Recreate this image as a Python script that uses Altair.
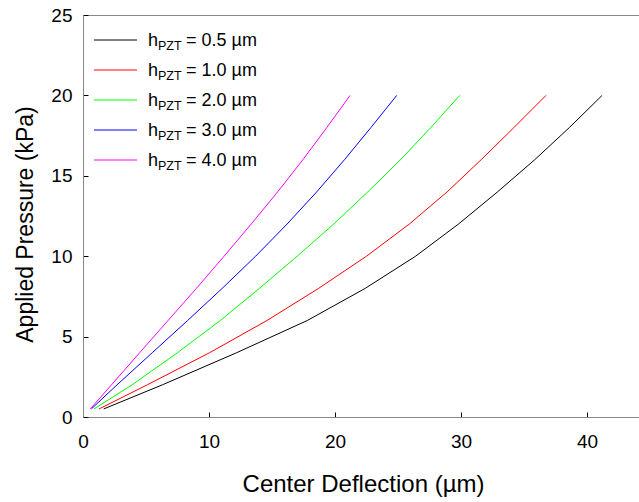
import altair as alt
import pandas as pd

# ---- data ----
series_names = ["0.5", "1.0", "2.0", "3.0", "4.0"]
series_colors = ["#000000", "#ff0000", "#00ff00", "#0000ff", "#ff00ff"]
legend_texts = ["= 0.5 \u00b5m", "= 1.0 \u00b5m", "= 2.0 \u00b5m", "= 3.0 \u00b5m", "= 4.0 \u00b5m"]

pressure_kpa = [0.5, 2, 4, 6, 8, 10, 12, 14, 16, 18, 20]
defl_05 = [1.64, 6.3, 12.2, 17.8, 22.4, 26.4, 29.8, 32.9, 35.85, 38.6, 41.2]
defl_10 = [1.27, 5.1, 10.05, 14.6, 18.7, 22.5, 25.9, 28.9, 31.6, 34.2, 36.75]
defl_20 = [0.87, 3.9, 7.5, 10.9, 14.0, 17.0, 19.9, 22.6, 25.2, 27.6, 29.9]
defl_30 = [0.66, 2.7, 5.5, 8.3, 11.05, 13.7, 16.2, 18.55, 20.75, 22.85, 24.9]
defl_40 = [0.58, 2.26, 4.5, 6.75, 9.0, 11.2, 13.35, 15.45, 17.45, 19.35, 21.2]

x_ticks = [0, 10, 20, 30, 40]
y_ticks = [0, 5, 10, 15, 20, 25]

# ---- tables ----
rows = []
for name, defl in zip(series_names, [defl_05, defl_10, defl_20, defl_30, defl_40]):
    for p, d in zip(pressure_kpa, defl):
        rows.append({"series": name, "deflection": d, "pressure": p})
df = pd.DataFrame(rows)

leg = pd.DataFrame({
    "series": series_names,
    "idx": list(range(len(series_names))),
    "rest": legend_texts,
})

FONT = "Liberation Sans"
W, H = 556, 402

xscale = alt.Scale(domain=[0, W / 12.6], nice=False, zero=False)
yscale = alt.Scale(domain=[0, 25], nice=False, zero=False)
cscale = alt.Scale(domain=series_names, range=series_colors)
legscale = alt.Scale(domain=[0, 4], range=[25, 145])

lines = alt.Chart(df).mark_line(strokeWidth=1).encode(
    x=alt.X("deflection:Q", scale=xscale, axis=alt.Axis(
        orient="bottom", values=x_ticks, ticks=False, tickSize=0, grid=False,
        labelPadding=30, labelBaseline="alphabetic", labelFontSize=19,
        labelFlush=False, labelOverlap=False,
        title="Center Deflection (\u00b5m)", titleFontSize=24, titleFontWeight="normal",
        titleX=280, titleY=74, titleBaseline="alphabetic", titleAlign="center")),
    y=alt.Y("pressure:Q", scale=yscale, axis=alt.Axis(
        orient="left", values=y_ticks, ticks=False, tickSize=0, grid=False,
        labelPadding=11, labelBaseline="middle", labelFontSize=19,
        labelFlush=False, labelOverlap=False,
        title="Applied Pressure (kPa)", titleFontSize=23, titleFontWeight="normal",
        titleAngle=270, titleX=-51, titleY=209, titleBaseline="alphabetic",
        titleAlign="center")),
    color=alt.Color("series:N", scale=cscale, legend=None),
    order=alt.Order("pressure:Q"),
)

# inward ticks (axes drawn on the opposite edge, shifted onto the plot frame)
tick_layer = alt.Chart(df).mark_point(opacity=0).encode(
    x=alt.X("deflection:Q", scale=xscale, axis=alt.Axis(
        orient="top", offset=-H, values=x_ticks, labels=False, domain=False,
        ticks=True, tickSize=5, tickColor="black", grid=False, title=None)),
    y=alt.Y("pressure:Q", scale=yscale, axis=alt.Axis(
        orient="right", offset=-W, values=y_ticks, labels=False, domain=False,
        ticks=True, tickSize=5, tickColor="black", grid=False, title=None)),
)

# top frame line
top_layer = alt.Chart(df).mark_point(opacity=0).encode(
    x=alt.X("deflection:Q", scale=xscale, axis=alt.Axis(
        orient="top", labels=False, ticks=False, domain=True, grid=False, title=None)),
    y=alt.Y("pressure:Q", scale=yscale, axis=None),
)

leg_base = alt.Chart(leg)
leg_y = alt.Y("idx:Q", scale=legscale, axis=None)
leg_rule = leg_base.mark_rule(strokeWidth=1).encode(
    x=alt.value(11), x2=alt.value(54), y=leg_y,
    color=alt.Color("series:N", scale=cscale, legend=None),
)
leg_h = leg_base.mark_text(align="left", baseline="alphabetic", fontSize=18, dy=6,
                           font=FONT, color="black").encode(
    x=alt.value(65), y=leg_y, text=alt.value("h"))
leg_sub = leg_base.mark_text(align="left", baseline="alphabetic", fontSize=12.5, dy=10,
                             font=FONT, color="black").encode(
    x=alt.value(75), y=leg_y, text=alt.value("PZT"))
leg_rest = leg_base.mark_text(align="left", baseline="alphabetic", fontSize=18, dy=6,
                              font=FONT, color="black").encode(
    x=alt.value(103), y=leg_y, text="rest:N")
legend_layer = alt.layer(leg_rule, leg_h, leg_sub, leg_rest)

chart = alt.layer(top_layer, tick_layer, lines, legend_layer).resolve_scale(
    y="independent"
).resolve_axis(
    x="independent", y="independent"
).properties(
    width=W, height=H,
    autosize=alt.AutoSizeParams(type="none"),
    padding={"left": 83, "top": 15, "right": 0, "bottom": 85},
).configure_view(
    stroke=None
).configure_axis(
    domainColor="black", domainWidth=1, labelColor="black", titleColor="black",
    labelFont=FONT, titleFont=FONT, tickColor="black", tickWidth=1,
).configure(background="white")

chart.save("out.html", embed_options={"renderer": "svg", "actions": False})
